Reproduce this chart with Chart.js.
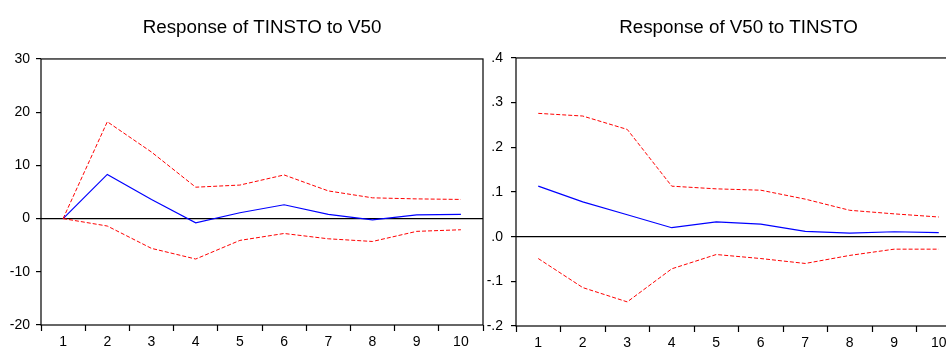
<!DOCTYPE html>
<html>
<head>
<meta charset="utf-8">
<script src="https://cdn.jsdelivr.net/npm/chart.js@4/dist/chart.umd.min.js"></script>
<style>
    html, body { margin: 0; padding: 0; background: #fff; }
    #wrap { position: relative; width: 946px; height: 347px; overflow: hidden; }
    #leftChart { position: absolute; left: 0; top: 0; }
    #rightChart { position: absolute; left: 484px; top: 0; }
</style>
</head>
<body>
<div id="wrap">
    <canvas id="leftChart" width="534" height="347"></canvas>
    <canvas id="rightChart" width="511" height="347"></canvas>
</div>
<script>
// Periods on the x axis
const periods = ['1', '2', '3', '4', '5', '6', '7', '8', '9', '10'];

// Response of TINSTO to V50
const tinstoResp = [0, 8.3, 3.6, -0.8, 1.1, 2.6, 0.8, -0.25, 0.7, 0.8];
const tinstoUpper = [0, 18.2, 12.5, 5.9, 6.3, 8.2, 5.2, 3.9, 3.7, 3.6];
const tinstoLower = [0, -1.4, -5.6, -7.6, -4.1, -2.8, -3.8, -4.3, -2.4, -2.1];
const tinstoTicks = { min: -20, max: 30, step: 10 };

// Response of V50 to TINSTO
const v50Resp = [0.113, 0.078, 0.049, 0.020, 0.033, 0.028, 0.012, 0.008, 0.011, 0.009];
const v50Upper = [0.276, 0.270, 0.240, 0.113, 0.107, 0.104, 0.084, 0.059, 0.051, 0.044];
const v50Lower = [-0.049, -0.114, -0.146, -0.072, -0.040, -0.049, -0.060, -0.042, -0.028, -0.028];
const v50Ticks = { min: -0.2, max: 0.4, step: 0.1 };

const FONT = 'Arial, "Liberation Sans", sans-serif';

// EViews style frame around the plot area
const frameBox = {
    id: 'frameBox',
    afterDraw(chart) {
        const { ctx, chartArea: a } = chart;
        ctx.save();
        ctx.strokeStyle = '#000';
        ctx.lineWidth = 1.2;
        ctx.strokeRect(a.left, a.top, a.right - a.left, a.bottom - a.top);
        ctx.restore();
    }
};

function buildChart(canvasId, title, resp, upper, lower, ticks, opts) {
    const red = (data) => ({
        data,
        borderColor: '#ff0000',
        borderWidth: 1,
        borderDash: [4, 2],
        pointRadius: 0,
        tension: 0
    });

    return new Chart(document.getElementById(canvasId), {
        type: 'line',
        data: {
            labels: periods,
            datasets: [
                red(upper),
                red(lower),
                { data: resp, borderColor: '#0000ff', borderWidth: 1.2, pointRadius: 0, tension: 0 }
            ]
        },
        options: {
            responsive: false,
            animation: false,
            devicePixelRatio: 1,
            layout: { padding: { left: 0, right: opts.padRight, top: 0, bottom: 0 } },
            plugins: {
                legend: { display: false },
                tooltip: { enabled: false },
                title: {
                    display: true,
                    fullSize: false,
                    text: title,
                    color: '#000',
                    font: { family: FONT, size: 18.8, weight: 'normal' },
                    padding: { top: 17, bottom: opts.titleBottom }
                }
            },
            scales: {
                x: {
                    offset: true,
                    afterFit: (s) => { s.height = opts.xHeight; },
                    grid: { offset: true, drawOnChartArea: false, tickLength: 6, tickColor: '#000', tickWidth: 1.2 },
                    border: { display: false },
                    ticks: { color: '#000', font: { family: FONT, size: 14 }, maxRotation: 0, padding: 3 }
                },
                y: {
                    min: ticks.min,
                    max: ticks.max,
                    afterFit: (s) => { s.width = opts.yWidth; },
                    grid: {
                        color: (c) => (c.tick && Math.abs(c.tick.value) < 1e-9 ? '#000' : 'rgba(0,0,0,0)'),
                        lineWidth: 1.2,
                        tickLength: 5,
                        tickColor: '#000',
                        tickWidth: 1.2
                    },
                    border: { display: false },
                    ticks: {
                        stepSize: ticks.step,
                        color: '#000',
                        padding: opts.yPad,
                        font: { family: FONT, size: 14 },
                        callback: opts.format
                    }
                }
            }
        },
        plugins: [frameBox]
    });
}

buildChart('leftChart', 'Response of TINSTO to V50', tinstoResp, tinstoUpper, tinstoLower, tinstoTicks, {
    padRight: 51, titleBottom: 19.4, xHeight: 22, yWidth: 41, yPad: 6,
    format: (v) => String(Math.round(v))
});

buildChart('rightChart', 'Response of V50 to TINSTO', v50Resp, v50Upper, v50Lower, v50Ticks, {
    padRight: 34, titleBottom: 18.4, xHeight: 21, yWidth: 32, yPad: 8,
    format: (v) => {
        const s = Number(v).toFixed(1);
        return s === '-0.0' ? '.0' : s.replace('0.', '.');
    }
});
</script>
</body>
</html>
